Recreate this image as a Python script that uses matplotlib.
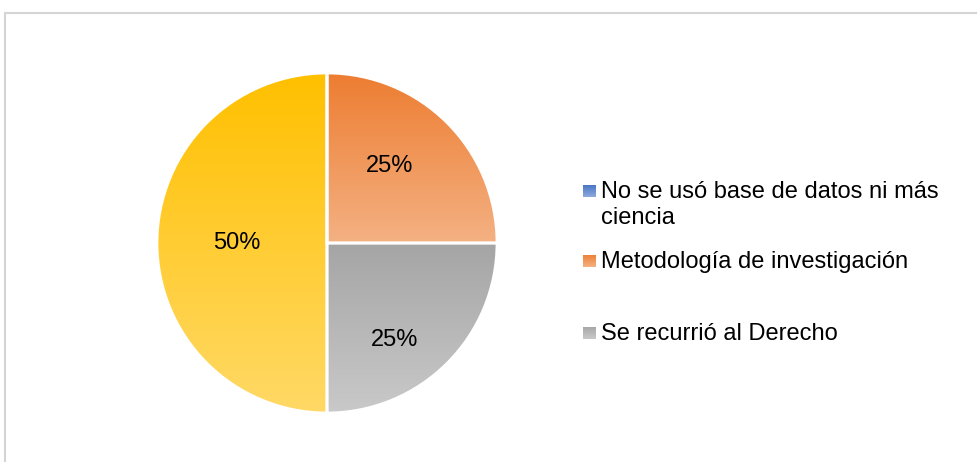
import matplotlib
matplotlib.use("Agg")
import matplotlib.pyplot as plt
import numpy as np
from matplotlib.colors import LinearSegmentedColormap
from matplotlib.patches import Rectangle

plt.rcParams["font.family"] = ["Liberation Sans", "DejaVu Sans"]

# data
labels = ["No se usó base de datos ni más\nciencia",
          "Metodología de investigación",
          "Se recurrió al Derecho",
          ""]
values = [0, 25, 25, 50]
# gradient colours per slice: (top, bottom)
grad_colors = [("#4472c4", "#8faadc"),
               ("#ed7d31", "#f4b183"),
               ("#a5a5a5", "#c9c9c9"),
               ("#ffc000", "#ffd966")]
# label centres in pie units (Excel best-fit placement)
label_pos = [(0, 0), (0.37, 0.45), (0.40, -0.57), (-0.53, 0.0)]

W, H = 977, 462
fig = plt.figure(figsize=(W / 100, H / 100), dpi=100)

# outer chart frame (cropped at right and bottom)
fig.add_artist(Rectangle((4.5 / W, -0.1), 1.2, 1 - 13.5 / H + 0.1,
                         transform=fig.transFigure, fill=False,
                         edgecolor="#d4d4d4", linewidth=1.5))

cx, cy, r = 327, 243, 170
ax = fig.add_axes([(cx - r) / W, (H - cy - r) / H, 2 * r / W, 2 * r / H])

wedges, _, autotexts = ax.pie(
    values, startangle=90, counterclock=False, radius=1,
    autopct=lambda p: f"{p:.0f}%" if p > 0 else "",
    wedgeprops=dict(edgecolor="white", linewidth=2),
    textprops=dict(fontsize=17, color="black"))

grad = np.linspace(0, 1, 256).reshape(-1, 1)
for w, v, (top, bot) in zip(wedges, values, grad_colors):
    if v == 0:
        w.set_facecolor("none")
        continue
    bb = w.get_path().get_extents()
    cmap = LinearSegmentedColormap.from_list("g", [top, bot])
    im = ax.imshow(grad, cmap=cmap, extent=[bb.x0, bb.x1, bb.y0, bb.y1],
                   origin="upper", aspect="auto", zorder=0.5)
    im.set_clip_path(w)
    w.set_facecolor("none")
    w.set_zorder(1)

for t, (px, py) in zip(autotexts, label_pos):
    t.set_position((px, py))
    t.set_zorder(3)

ax.set_xlim(-1, 1)
ax.set_ylim(-1, 1)
ax.set_aspect("auto")
ax.axis("off")

# legend (manual, Excel-style right side)
marker_y = [191, 261, 333]
fs = 17
em = fs * 100 / 72
for lab, (top, bot), my in zip(labels[:3], grad_colors[:3], marker_y):
    max_ = fig.add_axes([583 / W, (H - my - 6.5) / H, 13 / W, 13 / H])
    mcmap = LinearSegmentedColormap.from_list("m", [top, bot])
    max_.imshow(grad, cmap=mcmap, aspect="auto")
    max_.axis("off")
    fig.text(601 / W, (H - my + 0.55 * em - 3) / H, lab, fontsize=fs,
             va="top", ha="left", color="black", linespacing=1.25)

fig.savefig("out.png", dpi=100)
